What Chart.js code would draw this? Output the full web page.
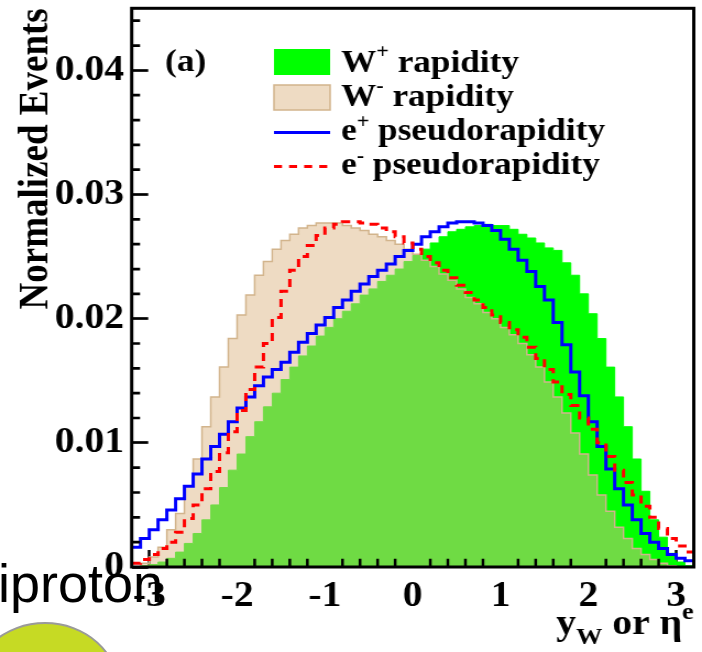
<!DOCTYPE html>
<html>
<head>
<meta charset="utf-8">
<script src="https://cdn.jsdelivr.net/npm/chart.js@4.4.1/dist/chart.umd.min.js"></script>
<style>
  html, body { margin: 0; padding: 0; background: #fff; }
  #wrap { position: relative; width: 702px; height: 652px; overflow: hidden; }
  #rapChart { position: absolute; left: 0; top: 0; }
  #blob {
    position: absolute; left: -30px; top: 622px; width: 150px; height: 136px;
    border-radius: 50%; background: #c6da24; border: 2px solid #9a9a9a; box-sizing: border-box;
  }
  #slideText {
    position: absolute; left: -2px; top: 552px; line-height: 1;
    font: 54px "Liberation Sans", Arial, sans-serif; color: #000;
  }
</style>
</head>
<body>
<div id="wrap">
  <canvas id="rapChart" width="638" height="652" style="width:702px;height:652px"></canvas>
  <div id="blob"></div>
  <div id="slideText">iproton</div>
</div>
<script>
// 64 bins of width 0.1 from -3.2 to 3.2
const binLow = -3.2;
const binWidth = 0.1;

const wPlus = [
  0.0000, 0.0001, 0.0002, 0.0004, 0.0007, 0.0012, 0.0019, 0.0027,
  0.0038, 0.0050, 0.0064, 0.0078, 0.0091, 0.0105, 0.0117, 0.0129,
  0.0140, 0.0151, 0.0161, 0.0170, 0.0178, 0.0186, 0.0193, 0.0200,
  0.0206, 0.0212, 0.0219, 0.0224, 0.0230, 0.0235, 0.0240, 0.0246,
  0.0251, 0.0256, 0.0261, 0.0266, 0.0270, 0.0272, 0.0274, 0.0275,
  0.0276, 0.0275, 0.0275, 0.0272, 0.0268, 0.0265, 0.0261, 0.0257,
  0.0255, 0.0245, 0.0235, 0.0220, 0.0204, 0.0184, 0.0161, 0.0137,
  0.0113, 0.0087, 0.0061, 0.0038, 0.0024, 0.0011, 0.0004, 0.0001
];
const wMinus = [
  0.0000, 0.0003, 0.0008, 0.0016, 0.0030, 0.0043, 0.0065, 0.0087,
  0.0113, 0.0137, 0.0161, 0.0184, 0.0203, 0.0219, 0.0235, 0.0246,
  0.0256, 0.0263, 0.0268, 0.0273, 0.0275, 0.0277, 0.0277, 0.0277,
  0.0275, 0.0273, 0.0271, 0.0268, 0.0266, 0.0263, 0.0260, 0.0256,
  0.0252, 0.0247, 0.0242, 0.0236, 0.0231, 0.0224, 0.0217, 0.0212,
  0.0205, 0.0200, 0.0193, 0.0187, 0.0180, 0.0171, 0.0161, 0.0149,
  0.0137, 0.0124, 0.0108, 0.0091, 0.0074, 0.0058, 0.0045, 0.0032,
  0.0023, 0.0015, 0.0010, 0.0006, 0.0003, 0.0001, 0.0000, 0.0000
];
const ePlus = [
  0.0016, 0.0023, 0.0030, 0.0038, 0.0046, 0.0055, 0.0065, 0.0075,
  0.0087, 0.0097, 0.0107, 0.0117, 0.0128, 0.0137, 0.0146, 0.0153,
  0.0159, 0.0165, 0.0173, 0.0181, 0.0188, 0.0195, 0.0201, 0.0209,
  0.0215, 0.0222, 0.0228, 0.0234, 0.0239, 0.0244, 0.0250, 0.0255,
  0.0260, 0.0266, 0.0270, 0.0274, 0.0277, 0.0278, 0.0278, 0.0277,
  0.0275, 0.0271, 0.0264, 0.0256, 0.0247, 0.0238, 0.0226, 0.0215,
  0.0197, 0.0179, 0.0157, 0.0138, 0.0117, 0.0097, 0.0079, 0.0063,
  0.0050, 0.0038, 0.0027, 0.0020, 0.0015, 0.0010, 0.0007, 0.0005
];
const eMinus = [
  0.0003, 0.0006, 0.0010, 0.0015, 0.0020, 0.0028, 0.0039, 0.0050,
  0.0063, 0.0077, 0.0092, 0.0109, 0.0126, 0.0143, 0.0161, 0.0180,
  0.0201, 0.0222, 0.0239, 0.0250, 0.0259, 0.0267, 0.0273, 0.0276,
  0.0278, 0.0278, 0.0277, 0.0276, 0.0273, 0.0270, 0.0266, 0.0261,
  0.0256, 0.0250, 0.0245, 0.0239, 0.0233, 0.0227, 0.0221, 0.0215,
  0.0209, 0.0203, 0.0197, 0.0191, 0.0185, 0.0177, 0.0168, 0.0159,
  0.0149, 0.0139, 0.0130, 0.0120, 0.0111, 0.0100, 0.0089, 0.0078,
  0.0068, 0.0058, 0.0049, 0.0040, 0.0031, 0.0023, 0.0017, 0.0012
];

const xTicks = [-3, -2, -1, 0, 1, 2, 3];
const yTicks = [0, 0.01, 0.02, 0.03, 0.04];

const serif = '"Liberation Serif", "Times New Roman", serif';
const tanFill = 'rgba(222, 184, 135, 0.5)';

// histogram outline: one point per lower bin edge, last value repeated at the upper edge
function toSteps(vals) {
  const pts = vals.map((v, i) => ({ x: binLow + i * binWidth, y: v }));
  pts.push({ x: binLow + vals.length * binWidth, y: vals[vals.length - 1] });
  return pts;
}

// text with raised / lowered pieces
function richWidth(ctx, parts) {
  let w = 0;
  for (const [t, size] of parts) {
    ctx.font = `bold ${size}px ${serif}`;
    w += ctx.measureText(t).width;
  }
  return w;
}
function drawRich(ctx, x, y, parts) {
  for (const [t, size, dy] of parts) {
    ctx.font = `bold ${size}px ${serif}`;
    ctx.fillText(t, x, y + dy);
    x += ctx.measureText(t).width;
  }
}

// scales must not reserve room for half-labels at their ends
function noEdgePadding(s) {
  s.paddingTop = 0; s.paddingBottom = 0; s.paddingLeft = 0; s.paddingRight = 0;
}

const framePlugin = {
  id: 'frame',
  afterDraw(chart) {
    const { ctx, chartArea: a, scales } = chart;
    ctx.save();
    ctx.strokeStyle = '#000';

    // minor ticks
    ctx.lineWidth = 2.7;
    ctx.beginPath();
    for (let k = 1; k < 23; k++) {
      if (k % 5 === 0) continue;
      const py = scales.y.getPixelForValue(k * 0.002);
      ctx.moveTo(a.left, py);
      ctx.lineTo(a.left + 7.6, py);
    }
    ctx.stroke();
    ctx.lineWidth = 2.5;
    ctx.beginPath();
    for (let k = 1; k < 32; k++) {
      const v = binLow + k * 0.2;
      if (Math.abs(v - Math.round(v)) < 1e-6) continue;
      const px = scales.x.getPixelForValue(v);
      ctx.moveTo(px, a.bottom);
      ctx.lineTo(px, a.bottom - 8.3);
    }
    ctx.stroke();

    // frame
    ctx.lineWidth = 3;
    ctx.strokeRect(a.left, a.top, a.right - a.left, a.bottom - a.top);

    ctx.fillStyle = '#000';
    ctx.textAlign = 'left';
    ctx.textBaseline = 'alphabetic';

    // panel tag
    ctx.font = `bold 32px ${serif}`;
    ctx.fillText('(a)', 150, 71);

    // legend
    const bx = 249, bw = 51, tx = 310;
    ctx.fillStyle = '#00ff00';
    ctx.fillRect(bx, 49, bw, 26);
    ctx.fillStyle = tanFill;
    ctx.fillRect(bx, 85, bw, 25);
    ctx.strokeStyle = '#d2b48c';
    ctx.lineWidth = 1.5;
    ctx.strokeRect(bx, 85, bw, 25);

    ctx.lineWidth = 3;
    ctx.strokeStyle = '#0000ff';
    ctx.beginPath();
    ctx.moveTo(bx, 132.5); ctx.lineTo(bx + bw, 132.5);
    ctx.stroke();
    ctx.strokeStyle = '#ff0000';
    ctx.setLineDash([7.3, 6.4]);
    ctx.beginPath();
    ctx.moveTo(bx, 166.5); ctx.lineTo(bx + bw, 166.5);
    ctx.stroke();
    ctx.setLineDash([]);

    ctx.fillStyle = '#000';
    drawRich(ctx, tx, 72, [['W', 32, 0], ['+', 20, -14], [' rapidity', 32, 0]]);
    drawRich(ctx, tx, 106, [['W', 32, 0], ['-', 20, -14], [' rapidity', 32, 0]]);
    drawRich(ctx, tx, 140, [['e', 32, 0], ['+', 20, -12], [' pseudorapidity', 32, 0]]);
    drawRich(ctx, tx, 174, [['e', 32, 0], ['-', 20, -12], [' pseudorapidity', 32, 0]]);

    // x axis title, right aligned to the frame
    const xt = [['y', 36, 0], ['W', 24, 10], [' or ', 36, 0], ['\u03b7', 36, 0], ['e', 24, -15]];
    drawRich(ctx, a.right - richWidth(ctx, xt), 634, xt);
    ctx.restore();
  }
};

const tickFont = { family: serif, weight: 'bold', size: 36, lineHeight: 1 };

new Chart(document.getElementById('rapChart'), {
  type: 'line',
  data: {
    datasets: [
      { label: 'W+ rapidity', data: toSteps(wPlus), stepped: true, fill: 'origin',
        backgroundColor: '#00ff00', borderColor: '#00ff00', borderWidth: 1, order: 4 },
      { label: 'W- rapidity', data: toSteps(wMinus), stepped: true, fill: 'origin',
        backgroundColor: tanFill, borderColor: '#d2b48c', borderWidth: 1.5, order: 3 },
      { label: 'e+ pseudorapidity', data: toSteps(ePlus), stepped: true, fill: false,
        borderColor: '#0000ff', borderWidth: 3, order: 2 },
      { label: 'e- pseudorapidity', data: toSteps(eMinus), stepped: true, fill: false,
        borderColor: '#ff0000', borderWidth: 3, borderDash: [8, 6], order: 1 }
    ]
  },
  options: {
    responsive: false,
    animation: false,
    layout: { padding: { left: 0, right: 7.5, top: 8.3, bottom: 0 } },
    elements: { point: { radius: 0 }, line: { tension: 0 } },
    plugins: { legend: { display: false }, tooltip: { enabled: false } },
    scales: {
      x: {
        type: 'linear', min: -3.2, max: 3.2, z: 1,
        afterBuildTicks: s => { s.ticks = xTicks.map(v => ({ value: v })); },
        ticks: { color: '#000', font: tickFont, padding: 29, maxRotation: 0, autoSkip: false },
        grid: { drawOnChartArea: false, tickLength: -17, tickWidth: 2.5, tickColor: '#000' },
        border: { display: false },
        afterFit: s => { s.height = 85; noEdgePadding(s); }
      },
      y: {
        type: 'linear', min: 0, max: 0.045, z: 1,
        afterBuildTicks: s => { s.ticks = yTicks.map(v => ({ value: v })); },
        ticks: { color: '#000', font: tickFont, padding: 22,
          callback: v => v === 0 ? '0' : v.toFixed(2) },
        grid: { drawOnChartArea: false, tickLength: -15, tickWidth: 2.7, tickColor: '#000' },
        border: { display: false },
        title: { display: true, text: 'Normalized Events', align: 'end', color: '#000',
          font: { family: serif, weight: 'bold', size: 37, lineHeight: 1 },
          padding: { top: 15, bottom: 0 } },
        afterFit: s => { s.width = 119.7; noEdgePadding(s); }
      }
    }
  },
  plugins: [framePlugin]
});
</script>
</body>
</html>
